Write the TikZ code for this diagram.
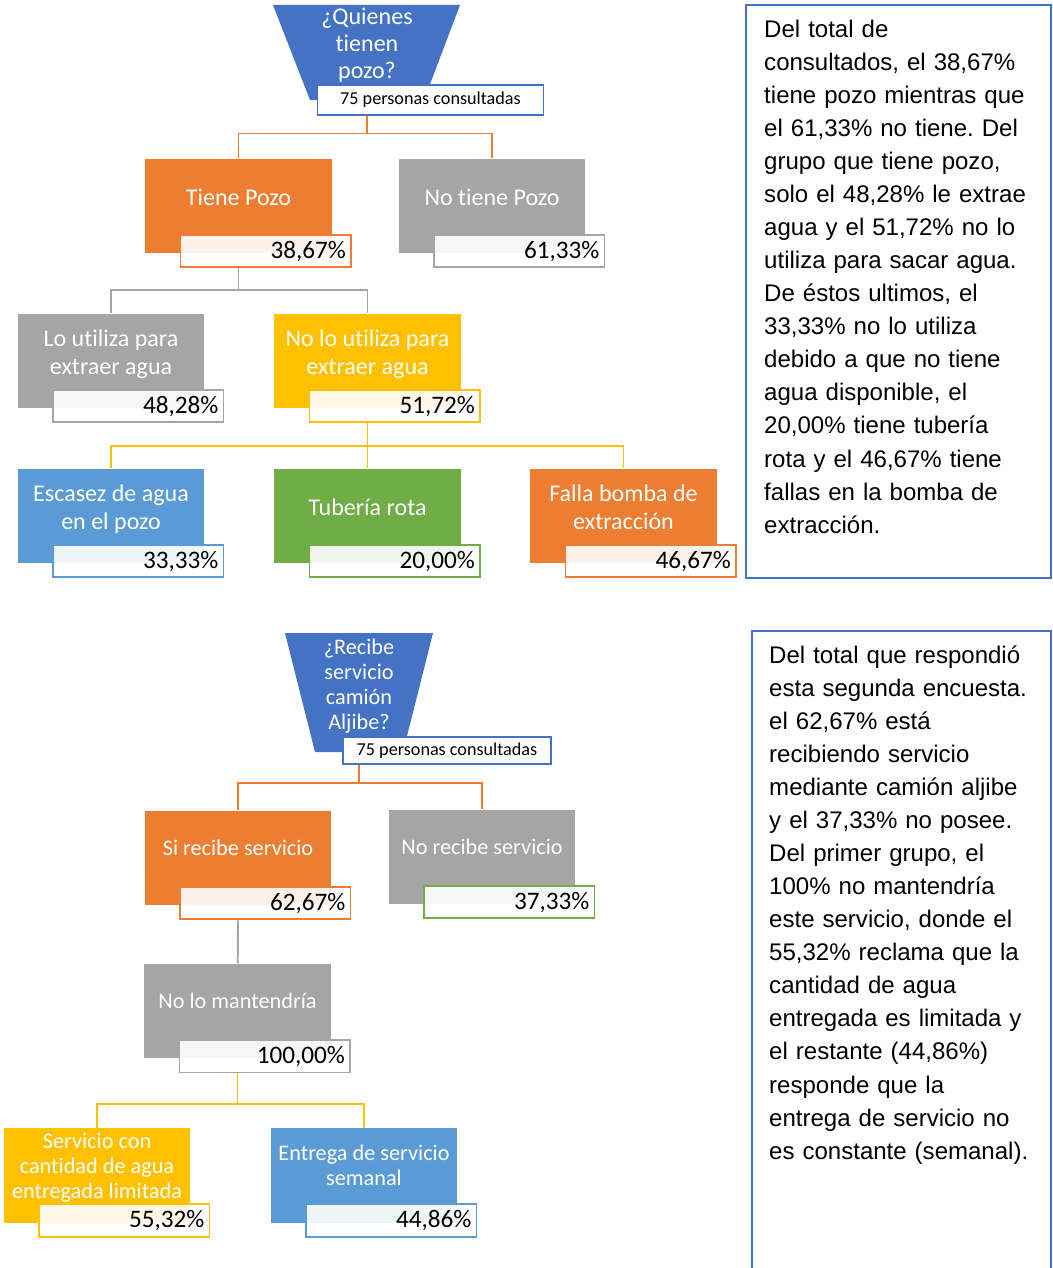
\documentclass[tikz,border=0pt]{standalone}
\usepackage{fontspec}
\setmainfont{Carlito}[Ligatures=NoCommon]
\newfontfamily\arial{Liberation Sans}
\usepackage{tikz}
\usepackage{xcolor}
\usetikzlibrary{positioning,calc}
\definecolor{azul}{HTML}{4472C4}
\definecolor{naranja}{HTML}{ED7D31}
\definecolor{gris}{HTML}{A5A5A5}
\definecolor{amarillo}{HTML}{FFC000}
\definecolor{celeste}{HTML}{5B9BD5}
\definecolor{verde}{HTML}{70AD47}
\frenchspacing
\newcommand{\rotulo}[2][5pt]{\raisebox{#1}[\height][\depth]{\begin{tabular}{@{}c@{}}#2\end{tabular}}}
\newcommand{\pct}[4]{\node[pctbox, draw=#3, anchor=north east] (#1) at ([shift={(20,-20)}]#2.south east) {#4};}

\begin{document}
\begin{tikzpicture}[x=0.03cm, y=-0.03cm,
    caja/.style={minimum width=159pt, minimum height=81pt, inner sep=0pt, text=white, font=\fontsize{20.5}{24}\selectfont},
    cajab/.style={caja, font=\fontsize{19}{21.3}\selectfont},
    pctbox/.style={line width=1.6pt, fill=white, fill opacity=0.9, text opacity=1, text width=137pt, align=right, minimum height=28pt, inner xsep=4.25pt, inner ysep=0pt, font=\fontsize{21.5}{24}\selectfont},
    embudo/.style={align=center, text=white, font=\fontsize{20.5}{23}\selectfont},
    consulta/.style={draw=azul, line width=1.5pt, fill=white, minimum height=25pt, inner sep=0pt, font=\fontsize{15.5}{18}\selectfont},
    enlace/.style={line width=1.6pt},
    nota/.style={text width=250pt, align=left, inner sep=0pt, font=\arial\fontsize{20.5}{28.2}\selectfont}]
    \useasboundingbox (0,0) rectangle (1052,1268);

    % Quienes tienen pozo
    \fill[azul] (273,5) -- (460,5) -- (424,100) -- (310,100) -- cycle;
    \node[embudo] (q1) at (367,45) {¿Quienes\\tienen\\pozo?};
    \node[consulta, minimum width=193pt] (lbl1) at (430.5,100) {75 personas consultadas};

    \node[caja, fill=naranja] (tiene) at (238.5,206) {\rotulo{Tiene Pozo}};
    \node[caja, fill=gris] (notiene) at (492,206) {\rotulo{No tiene Pozo}};
    \pct{p1}{tiene}{naranja}{38,67\%}
    \pct{p2}{notiene}{gris}{61,33\%}

    \node[caja, fill=gris] (lo) at (111,361) {\rotulo{Lo utiliza para\\extraer agua}};
    \node[caja, fill=amarillo] (nolo) at (367.5,361) {\rotulo{No lo utiliza para\\extraer agua}};
    \pct{p3}{lo}{gris}{48,28\%}
    \pct{p4}{nolo}{amarillo}{51,72\%}

    \node[caja, fill=celeste] (escasez) at (111,516) {\rotulo{Escasez de agua\\en el pozo}};
    \node[caja, fill=verde] (tuberia) at (367.5,516) {\rotulo{Tubería rota}};
    \node[caja, fill=naranja] (falla) at (623.5,516) {\rotulo{Falla bomba de\\extracción}};
    \pct{p5}{escasez}{celeste}{33,33\%}
    \pct{p6}{tuberia}{verde}{20,00\%}
    \pct{p7}{falla}{naranja}{46,67\%}

    \draw[enlace, naranja] (q1 |- lbl1.south) -- ++(0,18) -| (tiene);
    \draw[enlace, naranja] (q1 |- lbl1.south) -- ++(0,18) -| (notiene);
    \draw[enlace, gris] (tiene |- p1.south) -- ++(0,22) -| (lo);
    \draw[enlace, gris] (tiene |- p1.south) -- ++(0,22) -| (nolo);
    \draw[enlace, amarillo] (nolo |- p4.south) -- ++(0,23) -| (escasez);
    \draw[enlace, amarillo] (nolo |- p4.south) -- ++(0,23) -| (tuberia);
    \draw[enlace, amarillo] (nolo |- p4.south) -- ++(0,23) -| (falla);

    % Recibe servicio camion aljibe
    \fill[azul] (285,633) -- (433,633) -- (403,752) -- (315,752) -- cycle;
    \node[embudo, font=\fontsize{19}{21.3}\selectfont] (q2) at (359,686.5) {¿Recibe\\servicio\\camión\\Aljibe?};
    \node[consulta, minimum width=177pt, minimum height=23pt] (lbl2) at (447,750.5) {75 personas consultadas};

    \node[cajab, fill=naranja] (si) at (238,858) {\rotulo[6pt]{Si recibe servicio}};
    \node[cajab, fill=gris] (norec) at (482,857) {\rotulo[6pt]{No recibe servicio}};
    \pct{p8}{si}{naranja}{62,67\%}
    \pct{p9}{norec}{verde}{37,33\%}

    \node[cajab, fill=gris] (mant) at (237.5,1011) {\rotulo[6pt]{No lo mantendría}};
    \pct{p10}{mant}{gris}{100,00\%}

    \node[cajab, fill=amarillo] (serv) at (97,1175.5) {\rotulo[6pt]{Servicio con\\cantidad de agua\\entregada limitada}};
    \node[cajab, fill=celeste] (entrega) at (364,1175.5) {\rotulo[6pt]{Entrega de servicio\\semanal}};
    \pct{p11}{serv}{amarillo}{55,32\%}
    \pct{p12}{entrega}{celeste}{44,86\%}

    \draw[enlace, naranja] (q2 |- lbl2.south) -- ++(0,18) -| (si);
    \draw[enlace, naranja] (q2 |- lbl2.south) -- ++(0,18) -| (norec);
    \draw[enlace, gris] (si |- p8.south) -- (mant);
    \draw[enlace, amarillo] (mant |- p10.south) -- ++(0,31) -| (serv);
    \draw[enlace, amarillo] (mant |- p10.south) -- ++(0,31) -| (entrega);

    % Notas
    \draw[azul, line width=1.4pt] (746,5) rectangle (1051,578);
    \node[nota, anchor=base west] (nota1) at (764,37.5) {Del total de\\
        consultados, el 38,67\%\\
        tiene pozo mientras que\\
        el 61,33\% no tiene. Del\\
        grupo que tiene pozo,\\
        solo el 48,28\% le extrae\\
        agua y el 51,72\% no lo\\
        utiliza para sacar agua.\\
        De éstos ultimos, el\\
        33,33\% no lo utiliza\\
        debido a que no tiene\\
        agua disponible, el\\
        20,00\% tiene tubería\\
        rota y el 46,67\% tiene\\
        fallas en la bomba de\\
        extracción.};
    \draw[azul, line width=1.4pt] (752,1280) |- (1051,631) -- (1051,1280);
    \node[nota, anchor=base west] (nota2) at (769,663.5) {Del total que respondió\\
        esta segunda encuesta.\\
        el 62,67\% está\\
        recibiendo servicio\\
        mediante camión aljibe\\
        y el 37,33\% no posee.\\
        Del primer grupo, el\\
        100\% no mantendría\\
        este servicio, donde el\\
        55,32\% reclama que la\\
        cantidad de agua\\
        entregada es limitada y\\
        el restante (44,86\%)\\
        responde que la\\
        entrega de servicio no\\
        es constante (semanal).};
\end{tikzpicture}
\end{document}
